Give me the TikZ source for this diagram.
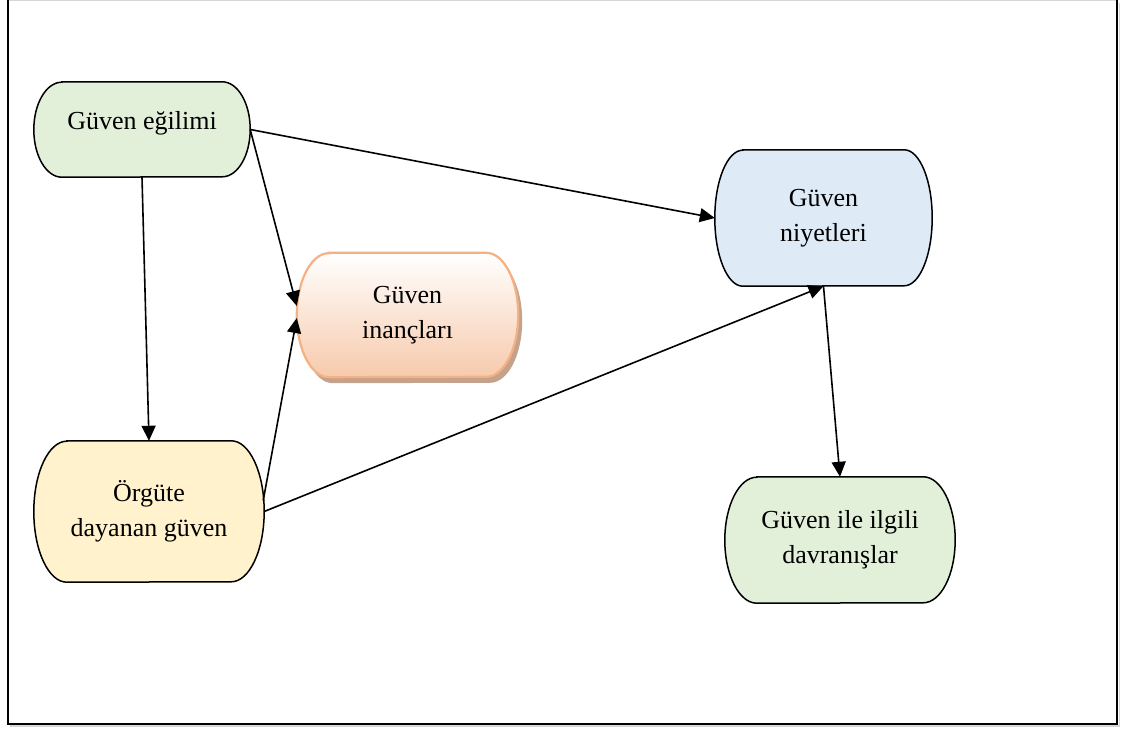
\documentclass[tikz,border=0pt]{standalone}
\usepackage{fontspec}
\setmainfont{Liberation Serif}
\usetikzlibrary{arrows.meta,calc,backgrounds}
\definecolor{gfill}{RGB}{226,239,217}
\definecolor{bfill}{RGB}{222,235,247}
\definecolor{yfill}{RGB}{255,242,204}
\definecolor{ofill}{RGB}{247,202,172}
\definecolor{oline}{RGB}{244,177,131}
\definecolor{oshadow}{RGB}{196,162,140}
\definecolor{framegray}{RGB}{215,215,215}
\newcommand\capsule[6]{%
  \path[#6] ($(#1.north west)+({#2+#4},#5)$) -- ($(#1.north east)+({-#2+#4},#5)$)
    arc[start angle=90,end angle=-90,x radius=#2,y radius=#3]
    -- ($(#1.south west)+({#2+#4},#5)$)
    arc[start angle=270,end angle=90,x radius=#2,y radius=#3] -- cycle;}
\tikzset{
  box/.style={inner sep=0pt, align=center, font=\fontsize{26}{35}\selectfont},
  outl/.style={draw=black, line width=1.5pt},
  conn/.style={line width=1.6pt, -{Triangle[length=15pt,width=14pt]}},
}
\begin{document}
\begin{tikzpicture}[x=1pt,y=1pt]
\useasboundingbox (0,0) rectangle (1133,729);
% frame
\draw[framegray, line width=1.5pt] (8.3,728.5) -- (1117,728.5);
\draw[framegray, line width=1.5pt] (1119.5,726) -- (1119.5,3) -- (10,3);
\draw[black, line width=2pt] (8.3,729) -- (8.3,5) -- (1117,5) -- (1117,729);
% nodes
\node[box, minimum width=216pt, minimum height=95pt] (eg) at (142,599.5)
  {\raisebox{6pt}[\height][\depth]{Güven eğilimi}};
\node[box, minimum width=217pt, minimum height=136pt] (niy) at (823.5,511) {Güven\\niyetleri};
\node[box, minimum width=221pt, minimum height=124pt] (inan) at (407.5,414) {Güven\\inançları};
\node[box, minimum width=230pt, minimum height=141pt] (org) at (149,217.5) {Örgüte\\dayanan güven};
\node[box, minimum width=230pt, minimum height=126pt] (dav) at (840,189) {Güven ile ilgili\\davranışlar};
\begin{scope}[on background layer]
  \capsule{eg}{28}{47.5}{0}{0}{outl, fill=gfill}
  \capsule{niy}{28}{68}{0}{0}{outl, fill=bfill}
  \capsule{inan}{32}{62}{4}{-6}{fill=oshadow}
  \capsule{inan}{32}{62}{0}{0}{draw=oline, line width=2.2pt, top color=white, bottom color=ofill}
  \capsule{org}{33}{70.5}{0}{0}{outl, fill=yfill}
  \capsule{dav}{32}{63}{0}{0}{outl, fill=gfill}
\end{scope}
% connectors
\draw[conn] (eg.south) -- (org.north);
\draw[conn] (eg.east) -- (niy.west);
\draw[conn] (eg.east) -- ($(inan.west)+(0,9)$);
\draw[conn] ($(org.east)+(-1,11)$) -- ($(inan.west)+(0,-3)$);
\draw[conn] (org.east) -- (niy.south);
\draw[conn] (niy.south) -- (dav.north);
\end{tikzpicture}
\end{document}
